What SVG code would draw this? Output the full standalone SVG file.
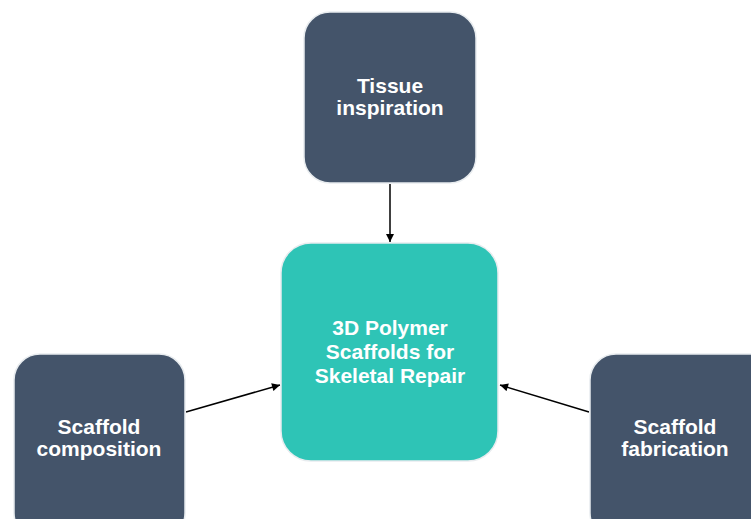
<svg xmlns="http://www.w3.org/2000/svg" width="751" height="519" viewBox="0 0 751 519">
<defs>
<style>
.dark{fill:#44546A;stroke:#E8ECEF;stroke-width:1.5}
.teal{fill:#2EC4B6;stroke:#E8ECEF;stroke-width:1.5}
.t{font-family:"Liberation Sans",Arial,sans-serif;font-weight:bold;font-size:21px;fill:#FFFFFF;text-anchor:middle}
.c{stroke:#000;stroke-width:1.5;fill:none;marker-end:url(#ah)}
</style>
<marker id="ah" viewBox="0 0 10 10" refX="10" refY="5" markerWidth="9" markerHeight="8" orient="auto" markerUnits="userSpaceOnUse">
<path d="M0,0 L10,5 L0,10 z" fill="#000"/>
</marker>
</defs>
<rect width="751" height="519" fill="#FFFFFF"/>
<g id="connectors">
<line class="c" x1="390" y1="184" x2="390" y2="242"/>
<line class="c" x1="186" y1="412" x2="280" y2="385"/>
<line class="c" x1="589" y1="412" x2="500" y2="385"/>
</g>
<g id="tissue">
<rect class="dark" x="304" y="12" width="172" height="171" rx="26"/>
<text class="t" x="390" y="93">Tissue</text>
<text class="t" x="390" y="115">inspiration</text>
</g>
<g id="center">
<rect class="teal" x="281" y="243" width="217" height="218" rx="30"/>
<text class="t" x="390" y="335">3D Polymer</text>
<text class="t" x="390" y="359">Scaffolds for</text>
<text class="t" x="390" y="383">Skeletal Repair</text>
</g>
<g id="composition">
<rect class="dark" x="14" y="354" width="171" height="185" rx="26"/>
<text class="t" x="99" y="434">Scaffold</text>
<text class="t" x="99" y="456">composition</text>
</g>
<g id="fabrication">
<rect class="dark" x="590" y="354" width="185" height="185" rx="26"/>
<text class="t" x="675" y="434">Scaffold</text>
<text class="t" x="675" y="456">fabrication</text>
</g>
</svg>
